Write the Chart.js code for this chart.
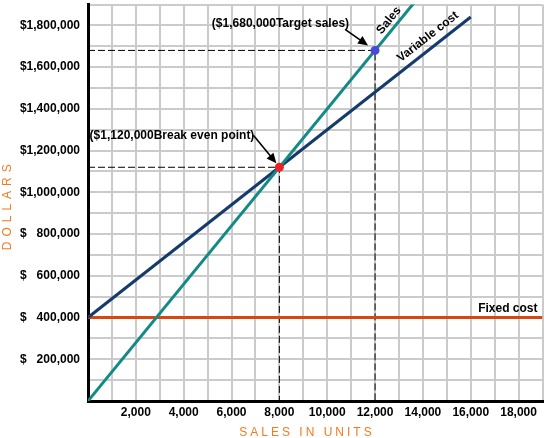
<!DOCTYPE html>
<html>
<head>
<meta charset="utf-8">
<script src="https://cdn.jsdelivr.net/npm/chart.js@4"></script>
<style>
html,body{margin:0;padding:0;background:#fff;}
canvas{display:block;}
</style>
</head>
<body>
<canvas id="c" width="547" height="438" style="width:547px;height:438px"></canvas>
<script>
// ---- data ----
const unitPrice = 140;            // $ per unit (sales)
const unitVariable = 90;          // $ per unit (variable cost)
const fixedCost = 400000;
const salesUnits = [0, 14000];
const salesDollars = [0, 1960000];
const varUnits = [0, 16000];
const varDollars = [400000, 1840000];
const fixedUnits = [0, 19000];
const fixedDollars = [400000, 400000];
const breakEven = {units: 8000, dollars: 1120000};
const target = {units: 12000, dollars: 1680000};
const xTickLabels = [2000, 4000, 6000, 8000, 10000, 12000, 14000, 16000, 18000];
const yTickLabels = [200000, 400000, 600000, 800000, 1000000, 1200000, 1400000, 1600000, 1800000];
const labels = {
  breakEven: '($1,120,000Break even point)',
  target: '($1,680,000Target sales)',
  sales: 'Sales',
  variable: 'Variable cost',
  fixed: 'Fixed cost',
  xTitle: 'SALES IN UNITS',
  yTitle: 'DOLLARS'
};

const FONT = '"Liberation Sans", Arial, Helvetica, sans-serif';
const fmt = n => n.toLocaleString('en-US');
const pts = (xs, ys) => xs.map((v, i) => ({x: v, y: ys[i]}));

function arrow(ctx, x1, y1, x2, y2) {
  const ang = Math.atan2(y2 - y1, x2 - x1);
  const L = 10, W = 4.5;
  ctx.save();
  ctx.strokeStyle = '#000'; ctx.fillStyle = '#000'; ctx.lineWidth = 1.6;
  ctx.beginPath();
  ctx.moveTo(x1, y1);
  ctx.lineTo(x2 - L * Math.cos(ang) * 0.8, y2 - L * Math.sin(ang) * 0.8);
  ctx.stroke();
  ctx.beginPath();
  ctx.moveTo(x2, y2);
  ctx.lineTo(x2 - L * Math.cos(ang) + W * Math.sin(ang), y2 - L * Math.sin(ang) - W * Math.cos(ang));
  ctx.lineTo(x2 - L * Math.cos(ang) - W * Math.sin(ang), y2 - L * Math.sin(ang) + W * Math.cos(ang));
  ctx.closePath();
  ctx.fill();
  ctx.restore();
}

const annot = {
  id: 'annot',
  afterDatasetsDraw(chart) {
    const {ctx, scales: {x, y}, chartArea} = chart;
    ctx.save();
    ctx.fillStyle = '#000';
    ctx.font = 'bold 12px ' + FONT;
    ctx.textBaseline = 'middle';
    // break even
    const bx = x.getPixelForValue(breakEven.units), by = y.getPixelForValue(breakEven.dollars);
    ctx.textAlign = 'right';
    ctx.fillText(labels.breakEven, bx - 25, by - 32);
    arrow(ctx, bx - 26, by - 32, bx - 3, by - 4);
    // target
    const tx = x.getPixelForValue(target.units), ty = y.getPixelForValue(target.dollars);
    ctx.fillText(labels.target, tx - 26, ty - 27);
    arrow(ctx, tx - 30, ty - 21, tx - 7, ty - 5);
    // fixed cost
    ctx.textAlign = 'right';
    ctx.fillText(labels.fixed, chartArea.right - 5, y.getPixelForValue(fixedCost) - 9);
    // sales label
    ctx.textAlign = 'center';
    const su = 12580;
    const sx = x.getPixelForValue(su), sy = y.getPixelForValue(su * unitPrice);
    const sAng = Math.atan2(y.getPixelForValue(1000 * unitPrice) - y.getPixelForValue(0), x.getPixelForValue(1000) - x.getPixelForValue(0));
    ctx.save();
    ctx.translate(sx, sy - 13);
    ctx.rotate(sAng);
    ctx.fillText(labels.sales, 0, 0);
    ctx.restore();
    // variable cost label
    const vu = 14250;
    const vx = x.getPixelForValue(vu), vy = y.getPixelForValue(fixedCost + vu * unitVariable);
    const vAng = Math.atan2(y.getPixelForValue(1000 * unitVariable) - y.getPixelForValue(0), x.getPixelForValue(1000) - x.getPixelForValue(0));
    ctx.save();
    ctx.translate(vx - 1, vy - 13);
    ctx.rotate(vAng);
    ctx.fillText(labels.variable, 0, 0);
    ctx.restore();
    // axis titles
    ctx.fillStyle = '#f47a20';
    ctx.font = '12px ' + FONT;
    try { ctx.letterSpacing = '3px'; } catch (e) {}
    ctx.textAlign = 'center';
    ctx.fillText(labels.xTitle, 307, 433);
    try { ctx.letterSpacing = '5px'; } catch (e) {}
    ctx.save();
    ctx.translate(8, (chartArea.top + chartArea.bottom) / 2 + 2);
    ctx.rotate(-Math.PI / 2);
    ctx.fillText(labels.yTitle, 0, 0);
    ctx.restore();
    ctx.restore();
  }
};

new Chart(document.getElementById('c'), {
  type: 'scatter',
  data: {
    datasets: [
      {label: 'Break even', data: [{x: breakEven.units, y: breakEven.dollars}], pointRadius: 4.5, pointBackgroundColor: '#ee2222', pointBorderWidth: 0, order: 0},
      {label: 'Target', data: [{x: target.units, y: target.dollars}], pointRadius: 4.5, pointBackgroundColor: '#4848dc', pointBorderWidth: 0, order: 0},
      {label: 'Sales', data: pts(salesUnits, salesDollars), showLine: true, borderColor: '#138a86', borderWidth: 3, pointRadius: 0, order: 1},
      {label: 'Variable cost', data: pts(varUnits, varDollars), showLine: true, borderColor: '#153a6c', borderWidth: 3, pointRadius: 0, order: 2},
      {label: 'Fixed cost', data: pts(fixedUnits, fixedDollars), showLine: true, borderColor: '#d8470f', borderWidth: 3, pointRadius: 0, order: 3},
      {label: 'BE guide', data: [{x: 0, y: breakEven.dollars}, {x: breakEven.units, y: breakEven.dollars}, {x: breakEven.units, y: 0}], showLine: true, borderColor: '#000', borderWidth: 1, borderDash: [7, 3], pointRadius: 0, order: 4},
      {label: 'Target guide', data: [{x: 0, y: target.dollars}, {x: target.units, y: target.dollars}, {x: target.units, y: 0}], showLine: true, borderColor: '#000', borderWidth: 1, borderDash: [7, 3], pointRadius: 0, order: 4}
    ]
  },
  options: {
    responsive: false,
    animation: false,
    devicePixelRatio: 1,
    layout: {padding: {top: 2, right: 3, left: 0, bottom: 0}},
    plugins: {legend: {display: false}, tooltip: {enabled: false}},
    elements: {line: {tension: 0}},
    scales: {
      x: {
        type: 'linear', min: 0, max: 19000,
        ticks: {
          stepSize: 1000, padding: 4, color: '#000',
          font: {family: FONT, size: 12, weight: 'bold'},
          maxRotation: 0, autoSkip: false,
          callback: v => xTickLabels.includes(v) ? fmt(v) : ''
        },
        grid: {color: '#cbcbcb', lineWidth: 2, drawTicks: false},
        border: {color: '#000', width: 3},
        afterFit: s => { s.height = 37; s.paddingLeft = 0; s.paddingRight = 0; }
      },
      y: {
        type: 'linear', min: 0, max: 1900000,
        ticks: {
          stepSize: 100000, padding: 8, color: '#000',
          font: {family: FONT, size: 12, weight: 'bold'},
          autoSkip: false,
          callback: v => yTickLabels.includes(v) ? (v >= 1000000 ? '$' + fmt(v) : '$   ' + fmt(v)) : ''
        },
        grid: {color: '#cbcbcb', lineWidth: 2, drawTicks: false},
        border: {color: '#000', width: 3},
        afterFit: s => { s.width = 88; s.paddingTop = 0; s.paddingBottom = 0; }
      }
    }
  },
  plugins: [annot]
});
</script>
</body>
</html>
